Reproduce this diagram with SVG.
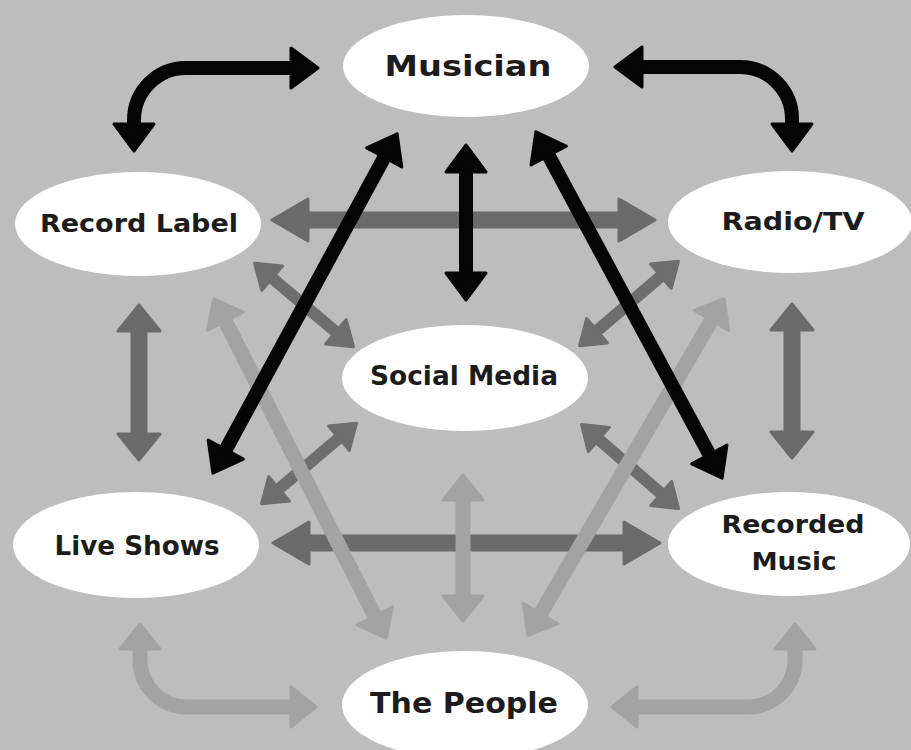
<svg xmlns="http://www.w3.org/2000/svg" width="911" height="750" viewBox="0 0 911 750">
<style>
.bg{fill:#bdbdbd}
.node ellipse{fill:#ffffff}
.node text{font-family:"DejaVu Sans","Liberation Sans",sans-serif;font-weight:700;fill:#1c1c1c;text-anchor:middle}
.c{fill:none;stroke-linecap:butt;stroke-linejoin:round}
.blk{stroke:#050505;stroke-width:14}
.blk{marker-start:url(#hb);marker-end:url(#hb)}
.dkh{stroke:#6b6b6b;stroke-width:17;marker-start:url(#hdh);marker-end:url(#hdh)}
.dkv{stroke:#6b6b6b;stroke-width:17;marker-start:url(#hdv);marker-end:url(#hdv)}
.md{stroke:#6e6e6e;stroke-width:12;marker-start:url(#hm);marker-end:url(#hm)}
.lt{stroke:#a3a3a3;stroke-width:15;marker-start:url(#hl);marker-end:url(#hl)}
</style>
<defs>
<marker id="hb" markerUnits="userSpaceOnUse" viewBox="-2 -24 32 48" refX="1" refY="0" markerWidth="32" markerHeight="48" orient="auto-start-reverse">
<path d="M0,-20 L27,0 L0,20 Z" fill="#050505" stroke="#050505" stroke-width="3" stroke-linejoin="round"/>
</marker>
<marker id="hdh" markerUnits="userSpaceOnUse" viewBox="-2 -26 42 52" refX="1" refY="0" markerWidth="42" markerHeight="52" orient="auto-start-reverse">
<path d="M0,-21 L36,0 L0,21 Z" fill="#6b6b6b" stroke="#6b6b6b" stroke-width="3" stroke-linejoin="round"/>
</marker>
<marker id="hdv" markerUnits="userSpaceOnUse" viewBox="-2 -26 32 52" refX="1" refY="0" markerWidth="32" markerHeight="52" orient="auto-start-reverse">
<path d="M0,-21 L26,0 L0,21 Z" fill="#6b6b6b" stroke="#6b6b6b" stroke-width="3" stroke-linejoin="round"/>
</marker>
<marker id="hm" markerUnits="userSpaceOnUse" viewBox="-2 -20 28 40" refX="1" refY="0" markerWidth="28" markerHeight="40" orient="auto-start-reverse">
<path d="M0,-16 L23,0 L0,16 Z" fill="#6e6e6e" stroke="#6e6e6e" stroke-width="3" stroke-linejoin="round"/>
</marker>
<marker id="hl" markerUnits="userSpaceOnUse" viewBox="-2 -24 30 48" refX="1" refY="0" markerWidth="30" markerHeight="48" orient="auto-start-reverse">
<path d="M0,-20 L25,0 L0,20 Z" fill="#a3a3a3" stroke="#a3a3a3" stroke-width="3" stroke-linejoin="round"/>
</marker>
</defs>
<rect class="bg" x="0" y="0" width="911" height="750"/>
<g id="connectors">
<path class="c dkh" d="M307,220 L620,220"/>
<path class="c dkh" d="M308,543 L625,543"/>
<path class="c dkv" d="M139,330 L139,435"/>
<path class="c dkv" d="M792,329 L792,433"/>
<path class="c md" d="M271.4,277.5 L336.6,332.5"/>
<path class="c md" d="M661.7,275.6 L596.3,331.4"/>
<path class="c md" d="M339.7,437.5 L278.3,489.5"/>
<path class="c md" d="M598.1,438.8 L661.9,494.2"/>
<path class="c lt" d="M224.8,320.2 L375.2,616.8"/>
<path class="c lt" d="M711.9,319.5 L540.1,614.5"/>
<path class="c lt" d="M463,499 L463,597"/>
<path class="c lt" d="M140,648 L140,660 A47,47 0 0 0 187,707 L292,707"/>
<path class="c lt" d="M636,707 L748,707 A47,47 0 0 0 795,660 L795,648"/>
<path class="c blk" d="M134,125 L134,120 A52,52 0 0 1 186,68 L292,68"/>
<path class="c blk" d="M641,67 L740,67 A52,52 0 0 1 792,119 L792,125"/>
<path class="c blk" d="M466,171 L466,274"/>
<path class="c blk" d="M384.7,156.6 L225.3,450.4"/>
<path class="c blk" d="M548.2,154.7 L709.8,455.3"/>
</g>
<g id="musician" class="node">
<ellipse cx="466" cy="66" rx="123" ry="51"/>
<text x="468" y="76" font-size="29" textLength="167" lengthAdjust="spacingAndGlyphs">Musician</text>
</g>
<g id="record-label" class="node">
<ellipse cx="138" cy="224" rx="123" ry="52"/>
<text x="139" y="232" font-size="25" textLength="198" lengthAdjust="spacingAndGlyphs">Record Label</text>
</g>
<g id="radio-tv" class="node">
<ellipse cx="790" cy="222" rx="122" ry="51"/>
<text x="793" y="230" font-size="25" textLength="143" lengthAdjust="spacingAndGlyphs">Radio/TV</text>
</g>
<g id="social-media" class="node">
<ellipse cx="465" cy="378" rx="123" ry="53"/>
<text x="464" y="385" font-size="26" textLength="188" lengthAdjust="spacingAndGlyphs">Social Media</text>
</g>
<g id="live-shows" class="node">
<ellipse cx="136" cy="545" rx="123" ry="53"/>
<text x="137" y="555" font-size="26" textLength="165" lengthAdjust="spacingAndGlyphs">Live Shows</text>
</g>
<g id="recorded-music" class="node">
<ellipse cx="789" cy="544" rx="121" ry="52"/>
<text x="793" y="533" font-size="25" textLength="143" lengthAdjust="spacingAndGlyphs">Recorded</text>
<text x="794" y="570" font-size="25" textLength="85" lengthAdjust="spacingAndGlyphs">Music</text>
</g>
<g id="the-people" class="node">
<ellipse cx="465" cy="705" rx="123" ry="54"/>
<text x="464" y="713" font-size="28" textLength="188" lengthAdjust="spacingAndGlyphs">The People</text>
</g>
</svg>
